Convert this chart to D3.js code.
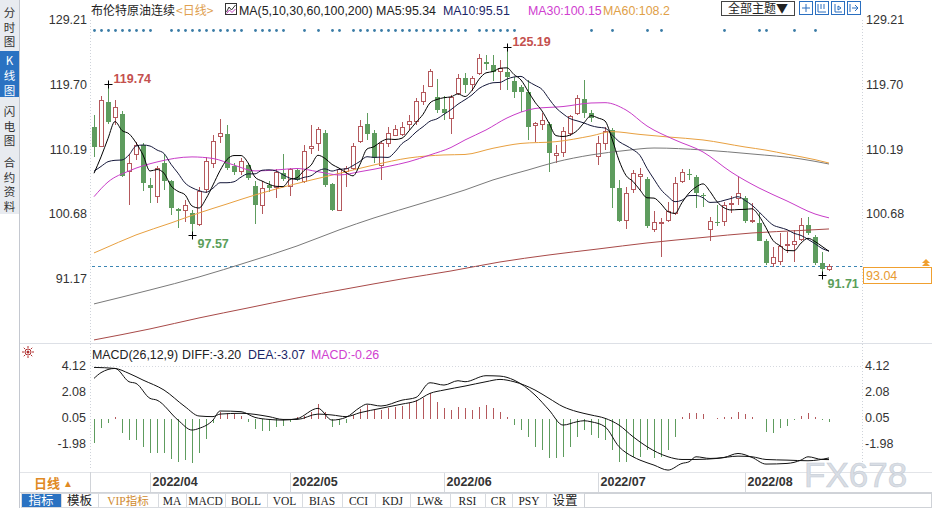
<!DOCTYPE html>
<html>
<head>
<meta charset="utf-8">
<script src="https://cdn.jsdelivr.net/npm/d3@7"></script>
<style>
body { margin: 0; background: #fff; }
svg { display: block; font-family: Arial, "Liberation Sans", sans-serif; }
</style>
</head>
<body>
<script>
// daily candles (index 0 = first candle on the left)
var opens = [113.5,110.6,117.2,114.9,115.4,106.9,109.4,110.85,105.0,103.3,
  108.2,105.5,101.4,101.3,100.9,99.2,104.25,108.1,112.1,112.5,
  107.8,106.9,107.9,104.8,102.0,105.0,104.6,106.7,104.7,107.2,
  105.5,110.4,111.1,112.6,105.1,101.3,106.9,107.4,111.3,114.0,
  112.6,107.9,111.1,112.3,112.4,113.9,114.3,117.2,119.4,117.9,
  116.2,114.8,118.45,120.7,119.7,121.4,123.1,122.6,121.6,121.6,
  120.3,119.3,118.7,113.75,113.9,114.0,109.35,109.7,112.6,115.5,
  117.6,115.6,109.2,111.1,113.1,104.5,99.7,104.35,106.2,105.8,
  98.4,99.25,99.75,100.8,105.5,106.6,106.1,103.5,98.5,99.6,
  99.6,102.05,103.0,103.0,99.6,99.45,96.8,93.5,93.7,96.05,
  96.2,96.9,99.1,97.4,93.55,92.6];
var highs = [115.3,118.1,119.74,117.4,115.8,109.6,111.3,111.1,106.0,107.7,
  109.6,105.7,101.6,102.8,101.3,104.7,109.1,112.3,114.6,113.8,
  108.2,108.9,108.2,105.5,105.5,105.5,107.3,109.6,107.4,107.4,
  110.85,113.8,113.5,113.1,105.3,107.4,107.7,111.1,114.5,115.5,
  113.1,111.3,113.5,113.8,114.3,115.3,117.7,119.7,122.0,120.5,
  118.0,118.2,121.3,121.4,121.0,124.2,124.0,124.0,123.3,125.19,
  120.9,119.7,120.4,114.3,115.5,114.3,110.85,113.5,115.3,118.2,
  120.4,116.0,112.1,113.5,113.3,105.7,104.7,107.2,107.4,106.2,
  101.1,100.1,102.5,106.2,107.3,107.3,106.45,103.85,100.3,102.0,
  102.5,103.3,106.3,103.3,102.3,100.8,97.0,95.9,97.9,98.0,
  98.4,100.1,100.3,97.6,95.2,93.3];
var lows = [109.1,110.5,113.9,113.8,106.1,102.0,108.7,104.1,102.3,102.3,
  104.2,100.6,98.6,99.6,97.57,99.0,103.8,107.4,111.1,107.2,
  106.4,106.4,105.7,99.25,100.7,104.0,103.0,105.5,103.3,105.5,
  105.2,109.6,109.9,104.7,101.1,101.2,104.7,107.2,111.1,111.6,
  108.2,105.7,110.6,112.1,112.1,113.1,113.8,116.7,119.3,115.5,
  114.5,112.4,118.2,118.5,118.8,121.1,121.9,120.2,118.9,118.9,
  117.7,115.7,111.6,111.3,113.0,106.9,108.2,109.1,112.1,115.3,
  114.8,114.3,107.9,110.1,101.6,99.6,98.5,103.8,104.3,98.6,
  98.1,94.45,99.6,100.6,105.2,105.7,101.6,101.8,96.7,98.9,
  98.9,100.9,102.0,99.35,99.35,96.7,93.2,93.0,93.2,95.0,
  93.7,96.7,97.6,93.2,91.71,92.3];
var closes = [110.6,117.4,114.3,116.3,106.3,108.2,110.85,105.3,104.5,107.4,
  105.5,101.6,101.2,102.0,99.2,104.0,108.4,111.3,112.5,107.4,
  106.9,108.4,106.0,102.0,104.5,104.6,106.8,105.8,107.3,105.7,
  109.9,110.7,113.1,105.0,101.3,107.2,107.4,110.7,113.5,112.5,
  108.9,111.1,112.6,113.2,113.45,114.3,117.3,118.5,121.6,116.0,
  115.6,117.9,120.65,119.7,120.6,123.6,122.7,121.6,122.1,120.9,
  118.7,118.7,113.45,113.95,114.5,109.7,109.55,112.8,115.0,117.7,
  115.5,114.8,111.1,112.8,104.6,99.7,103.7,106.7,106.5,98.9,
  99.45,99.45,101.05,105.2,106.8,106.45,103.85,103.4,99.6,99.35,
  102.0,102.2,103.7,99.75,99.75,96.8,93.5,94.35,95.9,96.2,
  96.65,99.1,97.9,93.5,92.65,93.04];

// MA5 / MA10 for the first candles (their window starts before the visible data)
var ma5Head = [106.7, 109.1, 111.8, 114.3];
var ma10Head = [107.0, 107.7, 108.4, 108.6, 108.65, 109.4, 110.7, 110.85, 110.7];

// longer averages, read as [candle index, value]
var ma30 = [[0,103.26],[2,105.42],[5,107.04],[9,108.36],[14,109.1],[17,108.87],[20,107.9],
  [23,107.04],[26,107.18],[29,107.4],[32,106.93],[35,106.45],[38,106.93],[42,107.7],
  [45,108.4],[48,109.39],[51,110.49],[53,111.59],[56,113.06],[59,114.82],[63,116.21],
  [67,116.5],[71,117.02],[73,117.07],[76,115.99],[79,113.64],[83,111.59],[87,109.83],
  [91,106.89],[95,104.54],[99,102.63],[103,100.72],[105,100.15]];
var ma60 = [[0,95.0],[1,95.44],[6,97.64],[11,99.4],[15,100.87],[19,102.19],[23,103.51],
  [26,104.39],[31,105.7],[35,106.67],[40,107.92],[45,108.95],[50,109.39],[53,109.46],
  [57,110.37],[61,111.08],[66,111.34],[71,112.18],[74,112.81],[78,112.4],[82,112.03],
  [87,111.59],[93,110.56],[96,110.1],[99,109.5],[103,108.7],[105,108.2]];
var ma100 = [[0,87.51],[8,89.56],[15,91.47],[22,93.67],[29,96.02],[35,98.37],[40,100.14],
  [47,102.34],[53,104.25],[57,105.72],[62,107.18],[66,108.36],[71,109.39],[76,110.05],
  [80,110.41],[87,110.12],[94,109.53],[101,108.8],[105,108.06]];
var ma200 = [[0,82.22],[8,83.84],[15,85.45],[22,86.92],[29,88.39],[36,89.71],[44,91.18],
  [51,92.35],[58,93.67],[65,94.7],[72,95.58],[79,96.46],[87,97.27],[94,97.93],
  [101,98.3],[105,98.52]];

// MACD(26,12,9)
var macdBars = [-1.93,-0.76,-0.37,0.1,-1.15,-1.67,-1.67,-2.24,-2.71,-2.71,
  -2.71,-3.18,-3.36,-3.23,-3.44,-2.71,-1.62,-0.35,0.55,0.42,
  0.37,0.2,-0.25,-0.83,-0.94,-0.94,-0.68,-0.57,-0.25,0.16,
  0.21,0.55,1.15,0.55,-0.63,-0.5,-0.31,0.29,0.73,1.07,
  0.68,0.68,0.81,0.94,0.99,1.2,1.46,1.59,1.98,1.33,
  0.81,0.68,0.94,0.81,0.68,0.94,1.07,0.8,0.55,0.16,
  -0.5,-0.89,-1.41,-2.19,-2.45,-3.1,-3.1,-2.97,-2.19,-1.41,
  -0.89,-1.28,-1.54,-1.67,-2.45,-3.36,-3.36,-2.97,-2.97,-2.45,
  -3.1,-2.97,-2.45,-1.41,0.16,0.42,0.47,0.37,-0.05,0.03,
  0.1,0.16,0.55,0.37,0.1,-0.05,-1.02,-1.15,-0.76,-0.57,
  -0.1,0.21,0.47,0.1,-0.1,-0.26];
var diff = [[0,3.15],[1,3.6],[3,3.93],[5,2.89],[6,2.76],[8,1.59],[9,1.45],[12,-0.11],
  [14,-0.89],[15,-0.76],[17,-0.11],[18,0.6],[21,0.55],[23,0.1],[25,-0.06],[27,-0.11],
  [29,0],[32,0.81],[34,-0.11],[36,0.1],[38,0.88],[39,1.14],[41,0.99],[44,1.45],
  [46,1.66],[48,2.81],[50,2.63],[52,2.97],[53,2.89],[56,3.36],[58,3.33],[60,3.02],
  [63,1.85],[65,0.68],[67,-0.5],[69,-0.24],[70,-0.16],[71,-0.24],[73,-0.63],[75,-2.19],
  [77,-2.98],[78,-3.24],[80,-3.63],[82,-4.02],[84,-3.5],[85,-3.37],[86,-2.98],[88,-3.11],
  [90,-3.03],[92,-2.72],[94,-3.03],[96,-3.55],[99,-3.5],[101,-3.24],[102,-2.98],
  [104,-3.19],[105,-3.2]];
var dea = [[0,4.01],[3,3.93],[5,3.54],[7,3.02],[10,2.24],[13,0.94],[15,0.21],[17,0.16],
  [18,0.36],[21,0.42],[25,0.16],[27,-0.06],[29,-0.06],[32,0.36],[34,0.29],[36,0.16],
  [38,0.47],[41,0.81],[44,1.14],[46,1.38],[48,1.98],[50,2.24],[53,2.55],[56,2.89],
  [58,3.07],[60,2.89],[63,2.24],[65,1.59],[67,0.94],[69,0.55],[71,0.29],[73,0.03],
  [75,-0.5],[77,-1.41],[79,-2.19],[82,-2.98],[84,-3.19],[86,-3.19],[89,-3.11],
  [92,-2.93],[94,-2.98],[96,-3.19],[99,-3.24],[102,-3.29],[105,-3.07]];

// event dots on top row (candle indices)
var eventDots = [0,1,2,3,4,5,6,7,8,11,12,13,14,15,16,17,18,19,20,21,23,24,25,26,27,30,32,34,35,
  37,38,39,40,41,42,43,44,45,46,47,48,49,50,51,52,53,55,56,57,58,59,60,71,74,79,81,90,95,96,100,103];

// axis ticks and labels
var priceTicks = [129.21, 119.70, 110.19, 100.68, 91.17];
var macdTicks = [4.12, 2.08, 0.05, -1.98];
var monthIdx = [8, 28, 50, 72, 93];
var monthLabels = ["2022/04", "2022/05", "2022/06", "2022/07", "2022/08"];
var lastPrice = 93.04;

// marked extremes
var extremes = [
  {i: 2, v: 119.74, hi: true},
  {i: 14, v: 97.57, hi: false},
  {i: 59, v: 125.19, hi: true},
  {i: 104, v: 91.71, hi: false}
];

var upColor = "#b4585c", downColor = "#5e9c5e";

var svg = d3.select("body").append("svg")
    .attr("width", 932).attr("height", 508);

// scales
var x = d3.scaleLinear().domain([0, closes.length - 1]).range([94, 829]);
var y = d3.scaleLinear().domain([91.17, 129.21]).range([279, 20]);
var ym = d3.scaleLinear().domain([-1.98, 4.12]).range([444, 366]);

// ---------- frame ----------
svg.append("rect").attr("x", 0).attr("y", 0).attr("width", 19).attr("height", 214)
    .attr("fill", "#e8ebf0");
svg.append("rect").attr("x", 0).attr("y", 51).attr("width", 19).attr("height", 46)
    .attr("fill", "#2a72c2");
svg.append("line").attr("x1", 19.5).attr("x2", 19.5).attr("y1", 0).attr("y2", 508)
    .attr("stroke", "#c4c8d0");

var tabs = [
  {c: "分", y: 17}, {c: "时", y: 31.5}, {c: "图", y: 46},
  {c: "K", y: 65, on: true}, {c: "线", y: 80, on: true}, {c: "图", y: 94.5, on: true},
  {c: "闪", y: 116}, {c: "电", y: 130.5}, {c: "图", y: 145},
  {c: "合", y: 167}, {c: "约", y: 181.5}, {c: "资", y: 196}, {c: "料", y: 210.5}
];
svg.selectAll(".tab").data(tabs).enter().append("text")
    .attr("x", 9.5).attr("y", function(d) { return d.y; })
    .attr("text-anchor", "middle")
    .attr("font-family", "'Noto Sans CJK SC', sans-serif")
    .attr("font-size", 11.5)
    .attr("fill", function(d) { return d.on ? "#fff" : "#333"; })
    .text(function(d) { return d.c; });

// plot borders (dotted verticals)
[90.5, 862.5].forEach(function(px) {
  svg.append("line").attr("x1", px).attr("x2", px).attr("y1", 20).attr("y2", 470)
      .attr("stroke", "#cfd3da").attr("stroke-dasharray", "1,2");
});
svg.append("line").attr("x1", 20).attr("x2", 932).attr("y1", 343.5).attr("y2", 343.5)
    .attr("stroke", "#dde0e6");

// ---------- header ----------
svg.append("text").attr("x", 91).attr("y", 15)
    .attr("font-family", "'Noto Sans CJK SC', sans-serif").attr("font-size", 12)
    .attr("fill", "#222").text("布伦特原油连续");
svg.append("text").attr("x", 176).attr("y", 15)
    .attr("font-family", "'Noto Sans CJK SC', sans-serif").attr("font-size", 12)
    .attr("fill", "#e0a050").text("<日线>");
var ic = svg.append("g").attr("transform", "translate(225,3)");
ic.append("rect").attr("x", 0.5).attr("y", 0.5).attr("width", 11).attr("height", 11)
    .attr("fill", "none").attr("stroke", "#333");
ic.append("polyline").attr("points", "1.5,9 4,4 6.5,7 10.5,2")
    .attr("fill", "none").attr("stroke", "#333");
ic.append("polyline").attr("points", "1.5,10.5 4.5,7 7,9.5 10.5,6")
    .attr("fill", "none").attr("stroke", "#c040c0");

var legend = [
  {t: "MA(5,10,30,60,100,200) MA5:95.34", x: 239, c: "#222"},
  {t: "MA10:95.51", x: 443, c: "#1b2566"},
  {t: "MA30:100.15", x: 528, c: "#d040d0"},
  {t: "MA60:108.2", x: 603, c: "#e0a048"}
];
svg.selectAll(".lg").data(legend).enter().append("text")
    .attr("x", function(d) { return d.x; }).attr("y", 15)
    .attr("font-size", 12.4).attr("fill", function(d) { return d.c; })
    .text(function(d) { return d.t; });

svg.append("rect").attr("x", 721.5).attr("y", 1.5).attr("width", 73).attr("height", 14)
    .attr("fill", "#fff").attr("stroke", "#444");
svg.append("text").attr("x", 758).attr("y", 13).attr("text-anchor", "middle")
    .attr("font-family", "'Noto Sans CJK SC', sans-serif").attr("font-size", 12)
    .attr("fill", "#222").text("全部主题▼");
[799, 815, 831, 847].forEach(function(bx, k) {
  var g = svg.append("g").attr("transform", "translate(" + bx + ",1)");
  g.append("rect").attr("x", 0.5).attr("y", 0.5).attr("width", 13).attr("height", 13)
      .attr("fill", "#fff").attr("stroke", "#2a6fc0");
  var p = ["M7,3V11M3,7H11", "M3,3V11H11M6,3V8M9,3V8", "M4,3V11H11M7,5L10,7L7,9Z", "M3,3V11M5,7H11M8,4L11,7L8,10"][k];
  g.append("path").attr("d", p).attr("fill", "none").attr("stroke", "#2a6fc0");
});

// event dots
svg.selectAll(".ev").data(eventDots).enter().append("circle")
    .attr("cx", function(d) { return x(d) + 0.5; }).attr("cy", 30.5).attr("r", 1.4)
    .attr("fill", "#3a7ca6");

// ---------- price axes ----------
svg.selectAll(".pl").data(priceTicks).enter().append("text")
    .attr("x", 87).attr("y", function(d) { return y(d) + 4; })
    .attr("text-anchor", "end").attr("font-size", 12.5).attr("fill", "#333")
    .text(function(d) { return d.toFixed(2); });
svg.selectAll(".pr").data(priceTicks.slice(0, 4)).enter().append("text")
    .attr("x", 866).attr("y", function(d) { return y(d) + 4; })
    .attr("font-size", 12.5).attr("fill", "#333")
    .text(function(d) { return d.toFixed(2); });

// last price dashed line
svg.append("line").attr("x1", 92).attr("x2", 862)
    .attr("y1", Math.round(y(lastPrice)) + 0.5).attr("y2", Math.round(y(lastPrice)) + 0.5)
    .attr("stroke", "#3c86b4").attr("stroke-dasharray", "3,3");

// ---------- candles ----------
var idx = d3.range(closes.length);
var cg = svg.append("g").attr("shape-rendering", "crispEdges");
cg.selectAll(".wick").data(idx).enter().append("line")
    .attr("x1", function(i) { return Math.round(x(i)) + 0.5; })
    .attr("x2", function(i) { return Math.round(x(i)) + 0.5; })
    .attr("y1", function(i) { return y(highs[i]); })
    .attr("y2", function(i) { return y(lows[i]); })
    .attr("stroke", function(i) { return closes[i] >= opens[i] ? upColor : downColor; });
cg.selectAll(".body").data(idx).enter().append("rect")
    .attr("x", function(i) {
      return closes[i] >= opens[i] ? Math.round(x(i)) - 1.5 : Math.round(x(i)) - 2;
    })
    .attr("y", function(i) { return y(Math.max(opens[i], closes[i])); })
    .attr("width", function(i) { return closes[i] >= opens[i] ? 4 : 5; })
    .attr("height", function(i) {
      return Math.max(1, Math.abs(y(opens[i]) - y(closes[i])));
    })
    .attr("fill", function(i) { return closes[i] >= opens[i] ? "#fff" : downColor; })
    .attr("stroke", function(i) { return closes[i] >= opens[i] ? upColor : "none"; });

// ---------- moving averages ----------
function movingAvg(n, head) {
  return closes.map(function(c, i) {
    if (i < head.length) return [i, head[i]];
    return [i, d3.mean(closes.slice(i - n + 1, i + 1))];
  });
}
var maLine = d3.line()
    .x(function(d) { return x(d[0]); })
    .y(function(d) { return y(d[1]); })
    .curve(d3.curveMonotoneX);
var maSeries = [
  {d: ma200, c: "#a84a48"},
  {d: ma100, c: "#7a7a7a"},
  {d: ma60, c: "#e8a040"},
  {d: ma30, c: "#c83cc8"},
  {d: movingAvg(10, ma10Head), c: "#15183a"},
  {d: movingAvg(5, ma5Head), c: "#000"}
];
svg.selectAll(".ma").data(maSeries).enter().append("path")
    .attr("d", function(s) { return maLine(s.d); })
    .attr("fill", "none").attr("stroke", function(s) { return s.c; })
    .attr("stroke-width", 1);

// high / low marks
extremes.forEach(function(e) {
  var px = Math.round(x(e.i)) + 0.5, py = Math.round(y(e.v)) + 0.5;
  svg.append("path").attr("d", "M" + (px - 4) + "," + py + "H" + (px + 4) +
      "M" + px + "," + (py - 4) + "V" + (py + 4))
      .attr("stroke", "#000").attr("fill", "none");
  svg.append("text").attr("x", px + 5).attr("y", e.hi ? py - 2 : py + 12)
      .attr("font-size", 12.5).attr("font-weight", "bold")
      .attr("fill", e.hi ? "#c4504e" : "#5a9e5a")
      .text(e.v.toFixed(2));
});

// last price box
svg.append("rect").attr("x", 863.5).attr("y", 267.5).attr("width", 68).attr("height", 16)
    .attr("fill", "#fff").attr("stroke", "#f0a030");
svg.append("text").attr("x", 866).attr("y", 280).attr("font-size", 12.5)
    .attr("fill", "#e89a30").text(lastPrice.toFixed(2));
svg.append("path").attr("d", "M922,266L926,262L930,266ZM922,263L926,259L930,263Z")
    .attr("fill", "#f0a030");

// ---------- MACD panel ----------
var sun = svg.append("g").attr("transform", "translate(28,352)");
d3.range(8).forEach(function(k) {
  var a = k * Math.PI / 4;
  sun.append("line").attr("x1", Math.cos(a) * 4).attr("y1", Math.sin(a) * 4)
      .attr("x2", Math.cos(a) * 6).attr("y2", Math.sin(a) * 6)
      .attr("stroke", "#b03030");
});
sun.append("circle").attr("r", 3).attr("fill", "#fff").attr("stroke", "#b03030");
sun.append("circle").attr("r", 1.5).attr("fill", "#b03030");

var macdHead = [
  {t: "MACD(26,12,9)", x: 92, c: "#222"},
  {t: "DIFF:-3.20", x: 182, c: "#222"},
  {t: "DEA:-3.07", x: 248, c: "#1b2566"},
  {t: "MACD:-0.26", x: 311, c: "#d040d0"}
];
svg.selectAll(".mh").data(macdHead).enter().append("text")
    .attr("x", function(d) { return d.x; }).attr("y", 359)
    .attr("font-size", 12.4).attr("fill", function(d) { return d.c; })
    .text(function(d) { return d.t; });

svg.append("line").attr("x1", 92).attr("x2", 862).attr("y1", ym(4.12) + 0.5).attr("y2", ym(4.12) + 0.5)
    .attr("stroke", "#d6d9df").attr("stroke-dasharray", "1,2");

svg.selectAll(".ml").data(macdTicks).enter().append("text")
    .attr("x", 86).attr("y", function(d) { return ym(d) + 4; })
    .attr("text-anchor", "end").attr("font-size", 12.5).attr("fill", "#333")
    .text(function(d) { return d.toFixed(2); });
svg.selectAll(".mr").data(macdTicks).enter().append("text")
    .attr("x", 865).attr("y", function(d) { return ym(d) + 4; })
    .attr("font-size", 12.5).attr("fill", "#333")
    .text(function(d) { return d.toFixed(2); });

svg.append("g").attr("shape-rendering", "crispEdges")
  .selectAll(".hb").data(idx).enter().append("line")
    .attr("x1", function(i) { return Math.round(x(i)) + 0.5; })
    .attr("x2", function(i) { return Math.round(x(i)) + 0.5; })
    .attr("y1", ym(0))
    .attr("y2", function(i) { return ym(macdBars[i]); })
    .attr("stroke", function(i) { return macdBars[i] >= 0 ? upColor : downColor; });

var mLine = d3.line()
    .x(function(d) { return x(d[0]); })
    .y(function(d) { return ym(d[1]); })
    .curve(d3.curveMonotoneX);
svg.append("path").attr("d", mLine(dea)).attr("fill", "none").attr("stroke", "#111");
svg.append("path").attr("d", mLine(diff)).attr("fill", "none").attr("stroke", "#111");

// ---------- date strip ----------
svg.append("line").attr("x1", 20).attr("x2", 932).attr("y1", 472.5).attr("y2", 472.5)
    .attr("stroke", "#e2e4e8");
svg.append("line").attr("x1", 90.5).attr("x2", 90.5).attr("y1", 472).attr("y2", 492)
    .attr("stroke", "#d0d3d8");
svg.append("text").attr("x", 34).attr("y", 488)
    .attr("font-family", "'Noto Sans CJK SC', sans-serif").attr("font-size", 13)
    .attr("font-weight", "bold").attr("fill", "#e08a24").text("日线");
svg.append("text").attr("x", 63).attr("y", 487).attr("font-size", 10)
    .attr("fill", "#e08a24").text("▲");

monthIdx.forEach(function(m, k) {
  var px = Math.round(x(m)) + 0.5;
  svg.append("line").attr("x1", px).attr("x2", px).attr("y1", 473).attr("y2", 492)
      .attr("stroke", "#d6d9de");
  svg.append("text").attr("x", px + 2).attr("y", 486)
      .attr("font-size", 12.5).attr("font-weight", "bold").attr("fill", "#333")
      .text(monthLabels[k]);
});

// watermark
svg.append("text").attr("x", 804).attr("y", 487)
    .attr("font-size", 35).attr("fill", "#d9dee5").attr("stroke", "#c6ccd5")
    .attr("stroke-width", 0.6).text("FX678");

// ---------- toolbar ----------
svg.append("line").attr("x1", 20).attr("x2", 932).attr("y1", 492.5).attr("y2", 492.5)
    .attr("stroke", "#d0d3d8");
var tools = [
  {t: "指标", a: 21, b: 61, cn: true, on: true},
  {t: "模板", a: 61, b: 98, cn: true},
  {t: "VIP指标", a: 98, b: 158, vip: true},
  {t: "MA", a: 158, b: 186}, {t: "MACD", a: 186, b: 225}, {t: "BOLL", a: 225, b: 267},
  {t: "VOL", a: 267, b: 302}, {t: "BIAS", a: 302, b: 342}, {t: "CCI", a: 342, b: 375},
  {t: "KDJ", a: 375, b: 410}, {t: "LW&", a: 410, b: 450}, {t: "RSI", a: 450, b: 485},
  {t: "CR", a: 485, b: 512}, {t: "PSY", a: 512, b: 546},
  {t: "设置", a: 546, b: 584, cn: true}
];
var tg = svg.selectAll(".tool").data(tools).enter().append("g");
tg.append("rect")
    .attr("x", function(d) { return d.a + 0.5; }).attr("y", 493.5)
    .attr("width", function(d) { return d.b - d.a; }).attr("height", 14)
    .attr("fill", function(d) { return d.on ? "#2a72c2" : "#fff"; })
    .attr("stroke", "#d8dbe0");
tg.append("text")
    .attr("x", function(d) { return (d.a + d.b) / 2; }).attr("y", 505)
    .attr("text-anchor", "middle")
    .attr("font-family", function(d) {
      return d.cn ? "'Noto Sans CJK SC', sans-serif" : "'Liberation Serif', 'Noto Sans CJK SC', serif";
    })
    .attr("font-size", function(d) { return d.cn ? 12.5 : 11.5; })
    .attr("fill", function(d) { return d.on ? "#fff" : (d.vip ? "#d08a30" : "#222"); })
    .text(function(d) { return d.t; });
svg.append("rect").attr("x", 584.5).attr("y", 493.5).attr("width", 347).attr("height", 14)
    .attr("fill", "#fff").attr("stroke", "#cfd2d7");
</script>
</body>
</html>
